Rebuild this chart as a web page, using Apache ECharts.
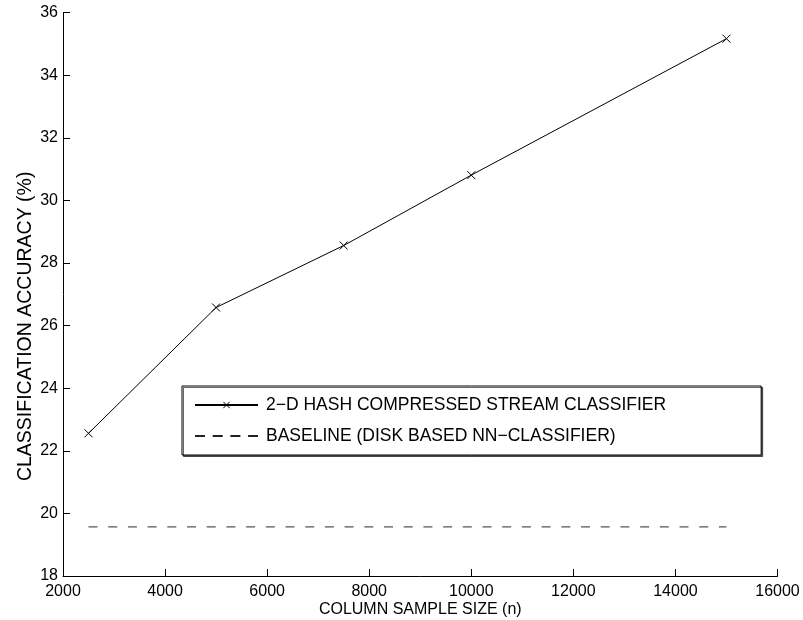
<!DOCTYPE html>
<html>
<head>
<meta charset="utf-8">
<script src="https://cdn.jsdelivr.net/npm/echarts@6/dist/echarts.min.js"></script>
<style>html,body{margin:0;padding:0;background:#fff}#c{width:803px;height:620px}</style>
</head>
<body>
<div id="c"></div>
<script>
const sampleSizes = [2500, 5000, 7500, 10000, 15000];
const hashAccuracy = [22.56, 26.58, 28.56, 30.81, 35.17];
const baselineX = [2500, 15000];
const baselineAccuracy = [19.57, 19.57];
const seriesNames = ['2\u2212D HASH COMPRESSED STREAM CLASSIFIER', 'BASELINE (DISK BASED NN\u2212CLASSIFIER)'];
const xAxisName = 'COLUMN SAMPLE SIZE (n)';
const yAxisName = 'CLASSIFICATION ACCURACY (%)';

const FONT = 'Liberation Sans, Arial, sans-serif';
const chart = echarts.init(document.getElementById('c'), null, {renderer: 'canvas'});
const axisCommon = {
  axisLine: {show: true, onZero: false, lineStyle: {color: '#000', width: 1}},
  axisTick: {show: true, inside: true, length: 7, lineStyle: {color: '#000'}},
  splitLine: {show: false},
  axisLabel: {color: '#000', fontSize: 16, fontFamily: FONT, formatter: v => String(v)},
  nameTextStyle: {color: '#000', fontSize: 16, fontFamily: FONT},
  nameMoveOverlap: false
};
chart.setOption({
  animation: false,
  backgroundColor: '#fff',
  grid: {left: 63, right: 25.5, top: 12.7, bottom: 44, containLabel: false, outerBoundsMode: 'none'},
  xAxis: Object.assign({}, axisCommon, {
    type: 'value', min: 2000, max: 16000, interval: 2000,
    name: xAxisName, nameLocation: 'middle', nameGap: 26,
    axisLabel: Object.assign({}, axisCommon.axisLabel, {margin: 8})
  }),
  yAxis: Object.assign({}, axisCommon, {
    type: 'value', min: 18, max: 36, interval: 2,
    name: yAxisName, nameLocation: 'middle', nameGap: 27,
    nameTextStyle: {color: '#000', fontSize: 19.5, fontFamily: FONT, padding: [0, 64, 0, 0]},
    axisLabel: Object.assign({}, axisCommon.axisLabel, {margin: 5})
  }),
  legend: {
    orient: 'vertical', left: 182, top: 386,
    padding: [10, 95, 10, 12],
    itemWidth: 63, itemHeight: 8, itemGap: 13,
    backgroundColor: '#fff', borderColor: '#000', borderWidth: 1, borderRadius: 0,
    shadowColor: 'rgba(0,0,0,0.6)', shadowOffsetX: 1.5, shadowOffsetY: 1.5, shadowBlur: 0,
    textStyle: {color: '#000', fontSize: 17.5, fontFamily: FONT, padding: [0, 0, 0, 3]},
    data: [
      {name: seriesNames[0], itemStyle: {borderWidth: 1}},
      {name: seriesNames[1], itemStyle: {opacity: 0}, lineStyle: {type: [10, 7.7], color: '#222'}}
    ]
  },
  series: [
    {
      name: seriesNames[0], type: 'line',
      data: sampleSizes.map((x, i) => [x, hashAccuracy[i]]),
      symbol: 'path://M0,0L10,10M10,0L0,10', symbolSize: 8,
      showAllSymbol: true,
      lineStyle: {color: '#000', width: 1},
      itemStyle: {color: '#000', borderColor: '#000', borderWidth: 1}
    },
    {
      name: seriesNames[1], type: 'line',
      data: baselineX.map((x, i) => [x, baselineAccuracy[i]]),
      symbol: 'none',
      lineStyle: {color: '#555', width: 1.3, type: [9, 10.7]},
      itemStyle: {color: '#555'}
    }
  ]
});
</script>
</body>
</html>
